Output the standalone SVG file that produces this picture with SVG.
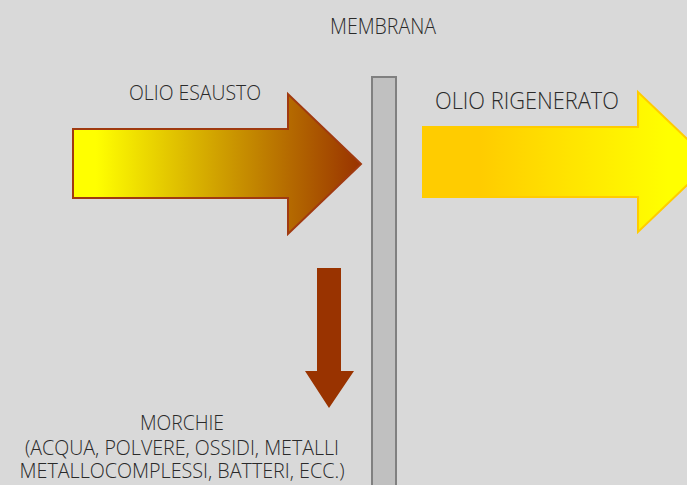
<svg xmlns="http://www.w3.org/2000/svg" width="687" height="485" viewBox="0 0 687 485">
<style>
text{font-family:"Open Sans","DejaVu Sans",sans-serif;font-weight:300;fill:#2a2a2a;}
</style>
<defs>
<linearGradient id="gIn" x1="73" y1="0" x2="361" y2="0" gradientUnits="userSpaceOnUse">
<stop offset="0.08" stop-color="#ffff00"/>
<stop offset="1" stop-color="#993300"/>
</linearGradient>
<linearGradient id="gOut" x1="423" y1="0" x2="711" y2="0" gradientUnits="userSpaceOnUse">
<stop offset="0.2" stop-color="#ffcc00"/>
<stop offset="0.85" stop-color="#ffff00"/>
</linearGradient>
</defs>
<rect width="687" height="485" fill="#d9d9d9"/>
<g id="membrana">
<rect x="372" y="77" width="24" height="420" fill="#c0c0c0" stroke="#808080" stroke-width="2"/>
<text x="383" y="34" font-size="22" text-anchor="middle" textLength="106" lengthAdjust="spacingAndGlyphs">MEMBRANA</text>
</g>
<g id="olio-esausto">
<polygon points="73,129 288,129 288,94 361,164 288,234 288,198 73,198" fill="url(#gIn)" stroke="#a03a10" stroke-width="2"/>
<text x="195" y="100" font-size="20" text-anchor="middle" textLength="132" lengthAdjust="spacingAndGlyphs">OLIO ESAUSTO</text>
</g>
<g id="olio-rigenerato">
<polygon points="423,127 638,127 638,92 711,162 638,232 638,197 423,197" fill="url(#gOut)" stroke="#ffcc00" stroke-width="2"/>
<text x="527" y="109" font-size="23" text-anchor="middle" textLength="184" lengthAdjust="spacingAndGlyphs">OLIO RIGENERATO</text>
</g>
<g id="morchie">
<polygon points="317,268 341,268 341,371 354,371 329,408 305,371 317,371" fill="#993300"/>
<text x="182" y="430" font-size="21" text-anchor="middle" textLength="84" lengthAdjust="spacingAndGlyphs">MORCHIE</text>
<text x="182" y="455" font-size="21" text-anchor="middle" textLength="314" lengthAdjust="spacingAndGlyphs">(ACQUA, POLVERE, OSSIDI, METALLI</text>
<text x="182" y="478" font-size="21" text-anchor="middle" textLength="325" lengthAdjust="spacingAndGlyphs">METALLOCOMPLESSI, BATTERI, ECC.)</text>
</g>
<g id="connectors"/>
</svg>
